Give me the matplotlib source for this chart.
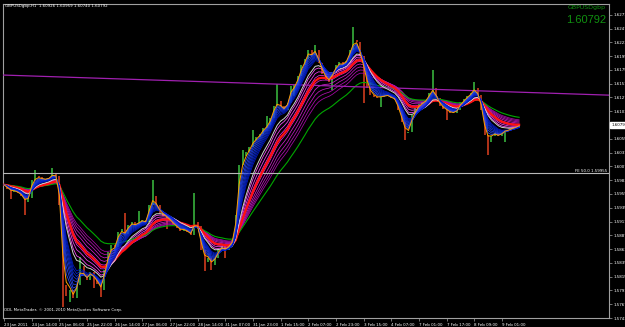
import numpy as np
import pandas as pd
import matplotlib
matplotlib.use("Agg")
import matplotlib.pyplot as plt

# ---- data (2-hour closes, 23 Jan - 9 Feb 2011) ----
title = "GBPUSDgbp,H1  1.60926 1.60959 1.60740 1.60792"
symbol = "GBPUSDgbp"
last_price = 1.60792
fe_level = 1.59955
fe_text = "FE 50.0 1.59955"
copyright_text = "ODL MetaTrader, \u00a9 2001-2010 MetaQuotes Software Corp."

closes = [
    1.5975, 1.5968, 1.5963, 1.5964, 1.5961, 1.5956, 1.5945, 1.5952, 1.5984, 1.5990,
    1.5989, 1.5985, 1.5984, 1.5987, 1.5994, 1.5990, 1.5940, 1.5801, 1.5782, 1.5792,
    1.5778, 1.5801, 1.5834, 1.5820, 1.5810, 1.5823, 1.5813, 1.5803, 1.5792, 1.5827,
    1.5858, 1.5870, 1.5867, 1.5893, 1.5898, 1.5890, 1.5905, 1.5910, 1.5905, 1.5910,
    1.5914, 1.5910, 1.5940, 1.5956, 1.5940, 1.5926, 1.5921, 1.5917, 1.5912, 1.5905,
    1.5900, 1.5895, 1.5897, 1.5893, 1.5888, 1.5910, 1.5903, 1.5862, 1.5841, 1.5848,
    1.5836, 1.5848, 1.5863, 1.5869, 1.5862, 1.5869, 1.5879, 1.5923, 1.6010, 1.6025,
    1.6032, 1.6041, 1.6053, 1.6058, 1.6064, 1.6074, 1.6079, 1.6091, 1.6112, 1.6121,
    1.6112, 1.6105, 1.6118, 1.6147, 1.6149, 1.6164, 1.6184, 1.6194, 1.6210, 1.6201,
    1.6210, 1.6187, 1.6168, 1.6158, 1.6154, 1.6170, 1.6184, 1.6189, 1.6185, 1.6191,
    1.6210, 1.6227, 1.6224, 1.6199, 1.6171, 1.6144, 1.6131, 1.6128, 1.6126, 1.6128,
    1.6130, 1.6131, 1.6126, 1.6123, 1.6105, 1.6084, 1.6065, 1.6067, 1.6097, 1.6109,
    1.6116, 1.6119, 1.6123, 1.6135, 1.6144, 1.6126, 1.6112, 1.6107, 1.6104, 1.6100,
    1.6100, 1.6105, 1.6119, 1.6124, 1.6130, 1.6135, 1.6144, 1.6131, 1.6105, 1.6062,
    1.6050, 1.6060, 1.6065, 1.6060, 1.6065, 1.6071, 1.6071, 1.6074, 1.6076, 1.60792,
]

# the wicks that stick out of the bundle (bar index, high, low)
wick_bars = [2, 6, 9, 14, 17, 19, 22, 26, 28, 35, 39, 43, 47, 55, 58, 60, 64,
             69, 72, 76, 79, 84, 90, 95, 101, 104, 109, 116, 124, 128, 136, 140, 145]
wick_highs = [None, None, 1.6001, 1.6004, None, None, 1.5850, None, None, 1.5925,
              1.5930, 1.5984, None, 1.5961, None, None, None,
              1.6036, 1.6070, 1.6095, 1.6150, None, 1.6218, None, 1.6250, None,
              None, None, 1.6175, None, 1.6154, None, None]
wick_lows = [1.5950, 1.5923, None, None, 1.5763, 1.5770, None, 1.5795, 1.5780, None,
             None, None, 1.5898, None, 1.5825, 1.5827, 1.5848,
             None, None, None, None, 1.6130, None, 1.6140, None, 1.6118,
             1.6110, 1.6053, None, 1.6088, None, 1.6027, 1.6050]

time_labels = [
    "23 Jan 2011", "24 Jan 14:00", "25 Jan 06:00", "25 Jan 22:00", "26 Jan 14:00",
    "27 Jan 06:00", "27 Jan 22:00", "28 Jan 14:00", "31 Jan 07:00", "31 Jan 23:00",
    "1 Feb 15:00", "2 Feb 07:00", "2 Feb 23:00", "3 Feb 15:00", "4 Feb 07:00",
    "7 Feb 01:00", "7 Feb 17:00", "8 Feb 09:00", "9 Feb 01:00",
]
price_ticks = [
    1.57430, 1.57670, 1.57910, 1.58150, 1.58390, 1.58630, 1.58870, 1.59110,
    1.59350, 1.59590, 1.59830, 1.60070, 1.60310, 1.60550, 1.60790, 1.61030,
    1.61270, 1.61510, 1.61750, 1.61990, 1.62230, 1.62470, 1.62710,
]

# purple trend line, left edge -> right edge
trend_prices = [1.6166, 1.6131]

# moving average spans (in 2h bars)
fast_spans = [2.5, 3, 3.5, 4, 4.5, 5, 5.5, 6]
slow_spans = [9, 10.5, 12, 14, 16, 18, 20, 22]
white_span = 8
red_span = 13
green_span = 28

# ---- figure ----
W, H = 625, 327
fig = plt.figure(figsize=(W / 100, H / 100), dpi=100)
fig.patch.set_facecolor("black")
ax = fig.add_axes([3 / W, 9 / H, 606 / W, 314 / H])
ax.set_facecolor("black")

n = len(closes)
x = np.arange(n)
c = pd.Series(closes)
o = c.shift(1).fillna(c.iloc[0])
hi = np.maximum(o, c).to_numpy()
lo = np.minimum(o, c).to_numpy()
for b, h, l in zip(wick_bars, wick_highs, wick_lows):
    if h is not None:
        hi[b] = h
    if l is not None:
        lo[b] = l

up = (c >= o).to_numpy()
ax.vlines(x[up], lo[up], hi[up], color="#3cc040", lw=1.1, zorder=2)
ax.vlines(x[~up], lo[~up], hi[~up], color="#e04020", lw=1.1, zorder=2)

def ema(span):
    return c.ewm(span=span, adjust=False).mean()

mag_cols = ["#ff50ff", "#f040f0", "#e030e0", "#d828d8", "#cc20cc",
            "#c018c0", "#b010b0", "#a808a8"]
for sp, col in zip(slow_spans, mag_cols):
    ax.plot(x, ema(sp), color=col, lw=0.55, zorder=3)
ax.plot(x, ema(green_span), color="#00a800", lw=0.8, zorder=3)
ax.plot(x, ema(red_span), color="#ff1010", lw=1.6, zorder=4)
ax.plot(x, ema(white_span), color="#d0d0d0", lw=0.7, zorder=5)
blue_cols = ["#3050ff", "#2848f8", "#2040f0", "#1838e8", "#1030e0",
             "#0828d8", "#0420d0", "#0018c8"]
for sp, col in zip(fast_spans, blue_cols):
    ax.plot(x, ema(sp), color=col, lw=0.55, zorder=6)
ax.plot(x, ema(2), color="#ffa000", lw=0.7, zorder=7)

xlim = (-0.3, 175.0)
ax.set_xlim(*xlim)
ax.set_ylim(1.57434, 1.62897)

ax.plot(xlim, trend_prices, color="#a020b0", lw=0.9, zorder=3)
ax.axhline(fe_level, color="#b8b8b8", lw=0.8, zorder=3)
ax.text(0.997, fe_level, fe_text, transform=ax.get_yaxis_transform(),
        ha="right", va="bottom", fontsize=2.9, color="white")

# axes styling
for s in ax.spines.values():
    s.set_color("#a0a0a0")
    s.set_linewidth(0.8)
ax.yaxis.tick_right()
ax.set_yticks(price_ticks)
# the last-price box covers the tick label at that level
ax.set_yticklabels(["" if abs(p - last_price) < 0.0005 else f"{p:.5f}"
                    for p in price_ticks])
ax.set_xticks(range(0, 8 * len(time_labels), 8))
ax.set_xticklabels(time_labels, ha="left")
ax.tick_params(colors="#a0a0a0", labelcolor="white", labelsize=2.9,
               length=2.5, width=0.5, pad=1)

ax.annotate(f"{last_price:.5f}", xy=(1.0, last_price),
            xycoords=("axes fraction", "data"), xytext=(1.5, 0),
            textcoords="offset points", ha="left", va="center",
            fontsize=2.9, color="black",
            bbox=dict(boxstyle="square,pad=0.25", fc="white", ec="white"))

fig.text(5 / W, 1 - 6 / H, title, fontsize=2.9, color="white", va="center")
fig.text(4 / W, 1 - 310 / H, copyright_text, fontsize=2.9, color="white",
         va="center")
fig.text(606 / W, 1 - 8 / H, symbol, fontsize=4.5, color="#109010",
         ha="right", va="center")
fig.text(606 / W, 1 - 20 / H, f"{last_price:.5f}", fontsize=8,
         family="Liberation Sans", color="#109010", ha="right", va="center")

fig.savefig("out.png", dpi=100, facecolor="black")
